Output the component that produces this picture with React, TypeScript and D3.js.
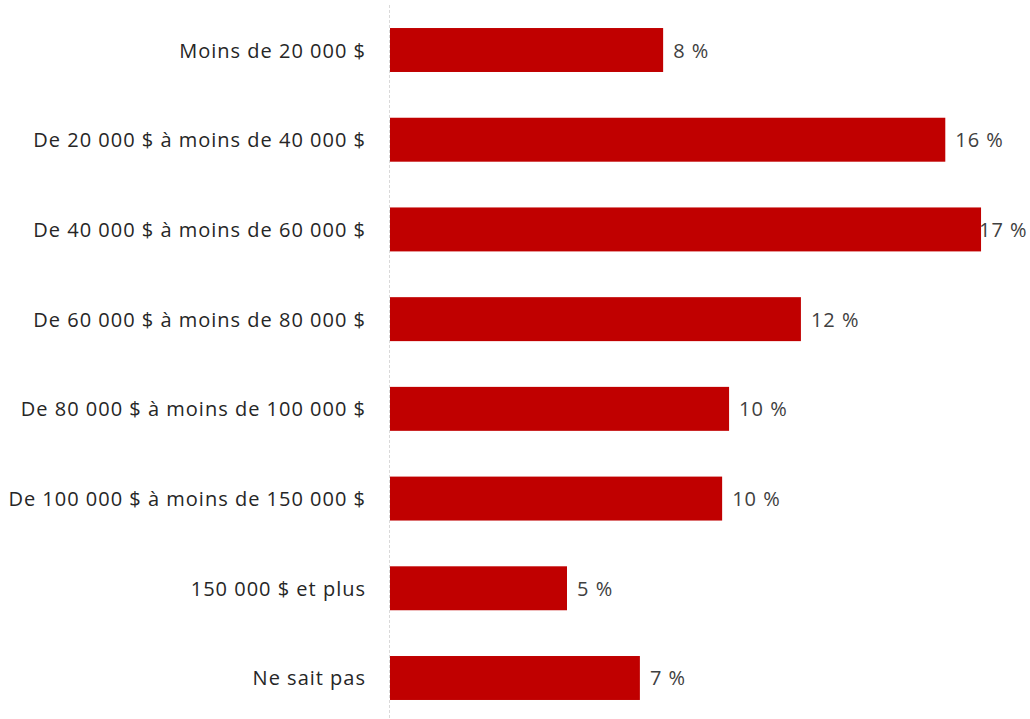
import React from "react";
import * as d3 from "d3";

const categories = [
  "Moins de 20 000 $",
  "De 20 000 $ à moins de 40 000 $",
  "De 40 000 $ à moins de 60 000 $",
  "De 60 000 $ à moins de 80 000 $",
  "De 80 000 $ à moins de 100 000 $",
  "De 100 000 $ à moins de 150 000 $",
  "150 000 $ et plus",
  "Ne sait pas",
];
const values = [7.87, 16.0, 17.03, 11.84, 9.77, 9.57, 5.1, 7.2];
const valueLabels = ["8 %", "16 %", "17 %", "12 %", "10 %", "10 %", "5 %", "7 %"];

const W = 1030;
const H = 719;
const FONT = "'Open Sans', Lato, sans-serif";

export default function App() {
  const x = d3.scaleLinear().domain([0, 17]).range([390, 980]);
  const y = d3
    .scaleBand<string>()
    .domain(categories)
    .range([5.15, 722.85])
    .paddingInner(0.51)
    .paddingOuter(0.255);

  return (
    <svg
      width={W}
      height={H}
      style={{ position: "absolute", left: 0, top: 0, background: "#fff" }}
    >
      <line
        x1={x(0) - 0.5}
        x2={x(0) - 0.5}
        y1={5}
        y2={H}
        stroke="#d9d9d9"
        strokeWidth={1}
        strokeDasharray="3,2"
      />
      {categories.map((c, i) => {
        const by = y(c)!;
        const bh = y.bandwidth();
        const end = x(values[i]);
        return (
          <g key={c}>
            <rect x={x(0)} y={by} width={end - x(0)} height={bh} fill="#C00000" />
            <text
              x={366}
              y={by + bh / 2}
              textAnchor="end"
              dominantBaseline="central"
              fontFamily={FONT}
              fontSize={20}
              letterSpacing={1}
              fill="#262626"
            >
              {c}
            </text>
            <text
              x={Math.min(end + 10, 979)}
              y={by + bh / 2}
              dominantBaseline="central"
              fontFamily={FONT}
              fontSize={20}
              letterSpacing={1}
              fill="#404040"
            >
              {valueLabels[i]}
            </text>
          </g>
        );
      })}
    </svg>
  );
}
